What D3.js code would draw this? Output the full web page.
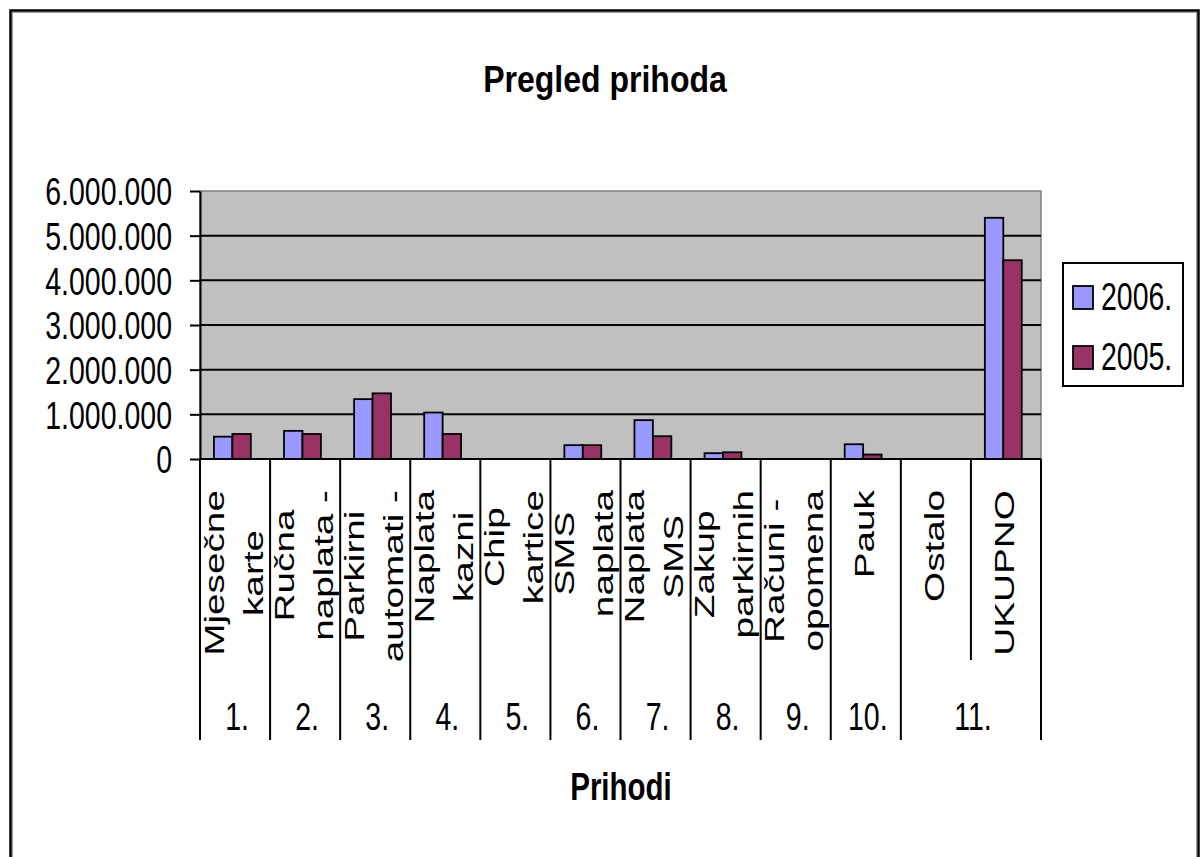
<!DOCTYPE html>
<html>
<head>
<meta charset="utf-8">
<script src="https://cdn.jsdelivr.net/npm/d3@7"></script>
<style>body{margin:0;background:#fff}</style>
</head>
<body>
<div id="wrapper"></div>
<script>
// data
const categories = ["Mjesečne\nkarte", "Ručna\nnaplata -", "Parkirni\nautomati -", "Naplata\nkazni", "Chip\nkartice",
    "SMS\nnaplata", "Naplata\nSMS", "Zakup\nparkirnih", "Računi -\nopomena", "Pauk", "Ostalo", "UKUPNO"]
const groupLabels = ["1.", "2.", "3.", "4.", "5.", "6.", "7.", "8.", "9.", "10.", "11.", "11."]
const series = ["2006.", "2005."]
const values2006 = [500000, 630000, 1340000, 1040000, 0, 310000, 870000, 130000, 0, 330000, 0, 5400000]
const values2005 = [560000, 560000, 1470000, 560000, 0, 310000, 510000, 150000, 0, 100000, 0, 4450000]
const yTicks = [0, 1000000, 2000000, 3000000, 4000000, 5000000, 6000000]
const colors = ["#9999FF", "#993366"]

const dimensions = {
    width: 1201,
    height: 857,
    plot: {left: 200, right: 1041, top: 191, bottom: 459},
}
// the original screenshot is stretched vertically, so text gets stretched too
const stretch = 1.36
const fontSize = 28.5
const fontFamily = "'Liberation Sans', Arial, sans-serif"

const svg = d3.select("#wrapper").append("svg")
    .attr("width", dimensions.width)
    .attr("height", dimensions.height)
svg.append("rect").attr("width", dimensions.width).attr("height", dimensions.height).attr("fill", "#fff")

function addText(parent, str, opts = {}) {
    const size = opts.size || fontSize
    return parent.append("text")
        .attr("font-family", fontFamily)
        .attr("font-size", size)
        .attr("font-weight", opts.weight || "normal")
        .attr("text-anchor", opts.anchor || "start")
        .attr("fill", "#000")
        .text(str)
}
function place(t, x, y, sy, rotate) {
    t.attr("transform", rotate
        ? `translate(${x},${y}) rotate(-90) scale(${sy},1)`
        : `translate(${x},${y}) scale(1,${sy})`)
    return t
}

// chart area border
svg.append("rect")
    .attr("x", 10.5).attr("y", 10.5)
    .attr("width", 1188).attr("height", 900)
    .attr("fill", "none").attr("stroke", "#000").attr("stroke-width", 2.5)
svg.append("rect")
    .attr("x", 12.5).attr("y", 12.5)
    .attr("width", 1184).attr("height", 900)
    .attr("fill", "none").attr("stroke", "#999").attr("stroke-width", 1)

const p = dimensions.plot
const xScale = d3.scaleBand().domain(d3.range(categories.length)).range([p.left, p.right])
const bw = xScale.bandwidth()
const inner = d3.scaleBand().domain(series).range([0, bw]).paddingOuter(0.9).align(0.42)
const yScale = d3.scaleLinear().domain([0, 6000000]).range([p.bottom, p.top])

// plot area
svg.append("rect")
    .attr("x", p.left).attr("y", p.top)
    .attr("width", p.right - p.left).attr("height", p.bottom - p.top)
    .attr("fill", "#C0C0C0").attr("stroke", "#808080").attr("stroke-width", 1.5)

// grid lines
svg.append("g").selectAll("line")
    .data(yTicks.filter(d => d > 0 && d < 6000000))
    .join("line")
    .attr("x1", p.left).attr("x2", p.right)
    .attr("y1", d => yScale(d)).attr("y2", d => yScale(d))
    .attr("stroke", "#000").attr("stroke-width", 2)

// bars
const valueSets = [values2006, values2005]
series.forEach((s, si) => {
    svg.append("g").selectAll("rect")
        .data(valueSets[si].map((v, i) => ({i, v})).filter(d => d.v > 0))
        .join("rect")
        .attr("x", d => xScale(d.i) + inner(s))
        .attr("y", d => yScale(d.v))
        .attr("width", inner.bandwidth())
        .attr("height", d => yScale(0) - yScale(d.v))
        .attr("fill", colors[si])
        .attr("stroke", "#000").attr("stroke-width", 1.8)
})

// y axis
const locale = d3.formatLocale({decimal: ",", thousands: ".", grouping: [3], currency: ["", ""]})
const fmt = locale.format(",.0f")
const yAxis = svg.append("g")
    .attr("transform", `translate(${p.left},0)`)
    .call(d3.axisLeft(yScale).tickValues(yTicks).tickFormat(fmt).tickSize(10).tickPadding(18).tickSizeOuter(0))
yAxis.select(".domain").attr("stroke", "#000").attr("stroke-width", 2)
yAxis.selectAll(".tick line").attr("stroke", "#000").attr("stroke-width", 2)
yAxis.selectAll(".tick text")
    .attr("font-family", fontFamily).attr("font-size", fontSize)
    .attr("fill", "#000").attr("dy", "0.36em")
    .attr("transform", `scale(1,${stretch})`)

// x axis line
svg.append("line")
    .attr("x1", p.left).attr("x2", p.right)
    .attr("y1", p.bottom).attr("y2", p.bottom)
    .attr("stroke", "#000").attr("stroke-width", 2)

// category separators
const labelTop = p.bottom
const groupBottom = 740
const innerBottom = 660
d3.range(categories.length + 1).forEach(i => {
    const isGroupEdge = i === 0 || i === categories.length || groupLabels[i - 1] !== groupLabels[i]
    const x = i < categories.length ? xScale(i) : p.right
    svg.append("line")
        .attr("x1", x).attr("x2", x)
        .attr("y1", labelTop).attr("y2", isGroupEdge ? groupBottom : innerBottom)
        .attr("stroke", "#000").attr("stroke-width", 2)
})

// rotated category labels
const labelG = svg.append("g")
const textTopY = 490
const lineGap = 39
categories.forEach((c, i) => {
    const lines = c.split("\n")
    const center = xScale(i) + bw / 2
    const texts = lines.map(l => addText(labelG, l, {anchor: "middle"}))
    const maxLen = d3.max(texts, t => t.node().getComputedTextLength() * stretch)
    const midY = textTopY + maxLen / 2
    texts.forEach((t, j) => {
        const bx = center + 8 + (j - (lines.length - 1) / 2) * lineGap
        place(t, bx, midY, stretch, true)
    })
})

// group number labels
const spans = []
groupLabels.forEach((g, i) => {
    const last = spans[spans.length - 1]
    if (last && last.label === g) last.end = i
    else spans.push({label: g, start: i, end: i})
})
spans.forEach(s => {
    const cx = (xScale(s.start) + xScale(s.end) + bw) / 2
    place(addText(svg, s.label, {anchor: "middle"}), cx + 2, 730, stretch, false)
})

// titles
place(addText(svg, "Pregled prihoda", {anchor: "middle", weight: "bold", size: 32}), 605, 92, 1.165, false)
place(addText(svg, "Prihodi", {anchor: "middle", weight: "bold", size: 29.5}), 621, 800, 1.3, false)

// legend
const legend = svg.append("g")
legend.append("rect")
    .attr("x", 1063).attr("y", 263).attr("width", 120).attr("height", 123)
    .attr("fill", "#fff").attr("stroke", "#000").attr("stroke-width", 2)
series.forEach((s, i) => {
    legend.append("rect")
        .attr("x", 1073).attr("y", 286 + i * 60).attr("width", 20).attr("height", 23)
        .attr("fill", colors[i]).attr("stroke", "#000").attr("stroke-width", 1.8)
    place(addText(legend, s), 1101, 310 + i * 60, stretch, false)
})
</script>
</body>
</html>
